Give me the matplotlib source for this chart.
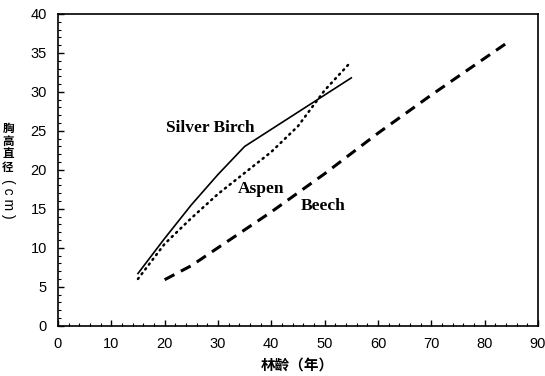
import matplotlib
matplotlib.use("Agg")
import matplotlib.pyplot as plt
from matplotlib.ticker import MultipleLocator

birch_x = [15, 20, 25, 30, 35, 45, 55]
birch_y = [6.7, 11.2, 15.5, 19.4, 23.0, 27.4, 31.8]

aspen_x = [15, 20, 25, 30, 35, 40, 45, 50, 55]
aspen_y = [6.0, 10.5, 13.8, 16.9, 19.6, 22.3, 25.6, 30.2, 33.9]

beech_x = [20, 25, 30, 40, 50, 60, 70, 84]
beech_y = [5.9, 7.7, 10.0, 14.6, 19.5, 24.7, 29.6, 36.2]

xticks = [0, 10, 20, 30, 40, 50, 60, 70, 80, 90]
yticks = [0, 5, 10, 15, 20, 25, 30, 35, 40]

W, H = 545, 376
fig = plt.figure(figsize=(W / 100, H / 100), dpi=100)
ax = fig.add_axes([0.1064, 0.1338, 0.8806, 0.829])


def fx(px):
    return px / W


def fy(py):
    return 1 - py / H


ax.plot(birch_x, birch_y, color="black", lw=1.2, ls="-")
ax.plot(aspen_x, aspen_y, color="black", lw=1.8, ls=(0, (0.5, 1.9)), dash_capstyle="round")
ax.plot(beech_x, beech_y, color="black", lw=2.2, ls=(0, (3.6, 2.4)))

serif = ["Liberation Serif", "DejaVu Serif"]
for label, px, py in [("Silver Birch", 210, 128), ("Aspen", 261, 189), ("Beech", 323, 206)]:
    fig.text(fx(px), fy(py), label, fontsize=12.5, fontweight="bold",
             family=serif, ha="center", va="center")

ax.set_xlim(0, 90)
ax.set_ylim(0, 40)
ax.set_xticks(xticks)
ax.set_yticks(yticks)
ax.xaxis.set_minor_locator(MultipleLocator(2))
ax.yaxis.set_minor_locator(MultipleLocator(1))
ax.tick_params(which="both", direction="in", top=False, right=False, color="black")
ax.tick_params(which="major", length=4, width=1.0, labelsize=10.5, pad=8)
ax.tick_params(which="minor", length=2.5, width=0.8)
for lab in ax.get_xticklabels() + ax.get_yticklabels():
    lab.set_family(["Liberation Sans", "DejaVu Sans"])
for s in ax.spines.values():
    s.set_linewidth(1.2)
    s.set_color("black")

cjk = ["Noto Sans CJK TC", "DejaVu Sans"]
fig.text(fx(297), fy(365), "林齡（年）", family=cjk, fontsize=10.5, fontweight="bold",
         ha="center", va="center")
ychars = ["胸", "高", "直", "径"]
ypos = [128, 141, 154, 167]
for ch, yp in zip(ychars, ypos):
    fig.text(fx(8), fy(yp), ch, family=["Noto Sans CJK SC", "DejaVu Sans"],
             fontsize=8.3, fontweight="bold", ha="center", va="center")
fig.text(fx(8), fy(199), "( c m )", family=["Liberation Sans", "DejaVu Sans"],
         fontsize=10, rotation=-90, ha="center", va="center")

fig.savefig("out.png", dpi=100)
